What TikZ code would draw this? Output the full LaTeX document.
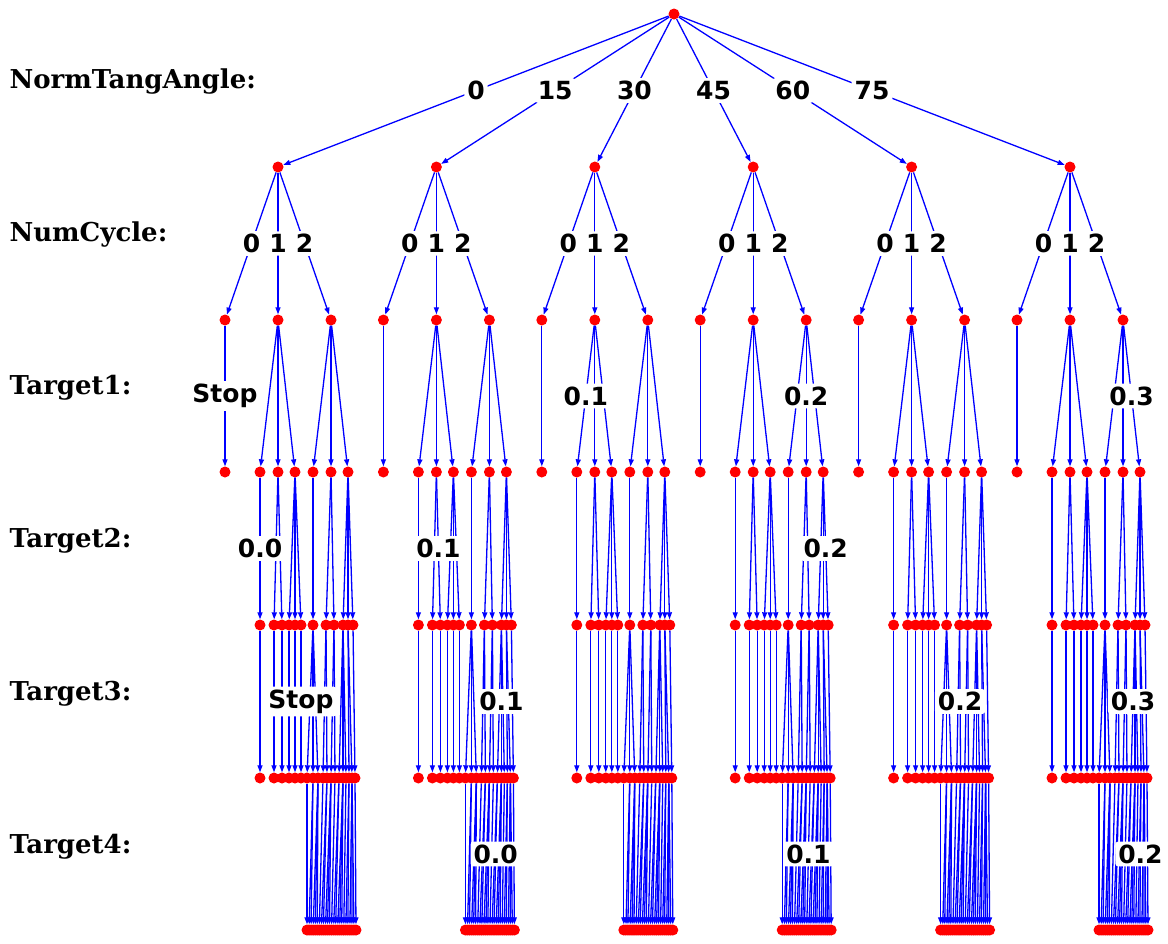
\documentclass[tikz,border=0pt]{standalone}
\usepackage{fontspec}
\usetikzlibrary{calc, arrows.meta}
\newfontfamily\valfont{DejaVu Sans}
\newfontfamily\rowfont{DejaVu Serif}

\begin{document}
\begin{tikzpicture}[x=1pt, y=-1pt,
    dot/.style={circle, fill=red, inner sep=0pt, minimum size=11pt},
    link/.style={draw=blue, line width=1.3pt, -{Triangle[length=7pt, width=5pt, fill=blue]}},
    val/.style={fill=white, text=black, rounded corners=3pt, inner sep=3pt,
        font=\valfont\bfseries\fontsize{25}{25}\selectfont},
    row/.style={anchor=west, font=\rowfont\bfseries\fontsize{26}{26}\selectfont}]

	\useasboundingbox (0,0) rectangle (1168,943);

	\node[row] (rAngle) at (6,82) {NormTangAngle:};
	\node[row] (rCycle) at (6,235) {NumCycle:};
	\node[row] (rT1) at (6,388) {Target1:};
	\node[row] (rT2) at (6,541) {Target2:};
	\node[row] (rT3) at (6,694) {Target3:};
	\node[row] (rT4) at (6,847) {Target4:};

	\node[dot] (root) at (674,14) {};

	\foreach \ang [count=\g] in {0,15,30,45,60,75} {
		\pgfmathsetmacro{\cx}{278+(\g-1)*158.4}
		\node[dot] (n1-\g) at (\cx,167) {};
		\draw[link] (root) -- node[val] {\ang} (n1-\g);

		% NumCycle
		\foreach \dx/\nc [count=\k] in {-53/0, 0/1, 53/2} {
			\node[dot] (n2-\g-\k) at (\cx+\dx,320) {};
			\draw[link] (n1-\g) -- node[val] {\nc} (n2-\g-\k);
		}

		% Target1
		\foreach \dx/\p [count=\k] in {-53/1, -18/2, 0/2, 17/2, 35/3, 53/3, 70/3} {
			\node[dot] (n3-\g-\k) at (\cx+\dx,472) {};
			\draw[link] (n2-\g-\p) -- (n3-\g-\k);
		}

		% Target2
		\foreach \dx/\p [count=\k] in {-18/2, -4/3, 4/3, 11/4, 17/4, 23/4, 35/5, 48/6, 56/6, 65/7, 70/7, 75/7} {
			\node[dot] (n4-\g-\k) at (\cx+\dx,625) {};
			\draw[link] (n3-\g-\p) -- (n4-\g-\k);
		}

		% Target3
		\foreach \dx/\p [count=\k] in {-18/1, -4/2, 4/3, 11/4, 17/5, 23/6, 29/7, 35/7, 40/7, 45/8, 49/8, 53/9, 57/9, 61/10, 65/10, 68/10, 71/11, 74/11, 77/12} {
			\node[dot] (n5-\g-\k) at (\cx+\dx,778) {};
			\draw[link] (n4-\g-\p) -- (n5-\g-\k);
		}

		% Target4
		\foreach \p [count=\k] in {7,8,8,9,9,9,10,11,11,12,12,12,13,14,14,15,15,15,16,17,17,18,18,18,19} {
			\node[dot] (n6-\g-\k) at ({\cx+29+(\k-1)*49/24},930) {};
			\draw[link] (n5-\g-\p) -- (n6-\g-\k);
		}
	}

	% values on the lower edges
	\node[val] at ($(n2-1-1)!0.5!(n3-1-1)$) {Stop};
	\node[val] at ($(n2-3-2)!0.5!(n3-3-2)$) {0.1};
	\node[val] at ($(n2-4-3)!0.5!(n3-4-6)$) {0.2};
	\node[val] at ($(n2-6-3)!0.5!(n3-6-7)$) {0.3};

	\node[val] at ($(n3-1-2)!0.5!(n4-1-1)$) {0.0};
	\node[val] at ($(n3-2-3)!0.5!(n4-2-3)$) {0.1};
	\node[val] at ($(n3-4-7)!0.5!(n4-4-12)$) {0.2};

	\node[val] at ($(n4-1-6)!0.5!(n5-1-6)$) {Stop};
	\node[val] at ($(n4-2-10)!0.5!(n5-2-15)$) {0.1};
	\node[val] at ($(n4-5-8)!0.5!(n5-5-11)$) {0.2};
	\node[val] at ($(n4-6-10)!0.5!(n5-6-14)$) {0.3};

	\node[val] at ($(n5-2-14)!0.5!(n6-2-15)$) {0.0};
	\node[val] at ($(n5-4-13)!0.5!(n6-4-13)$) {0.1};
	\node[val] at ($(n5-6-17)!0.5!(n6-6-21)$) {0.2};

\end{tikzpicture}
\end{document}
